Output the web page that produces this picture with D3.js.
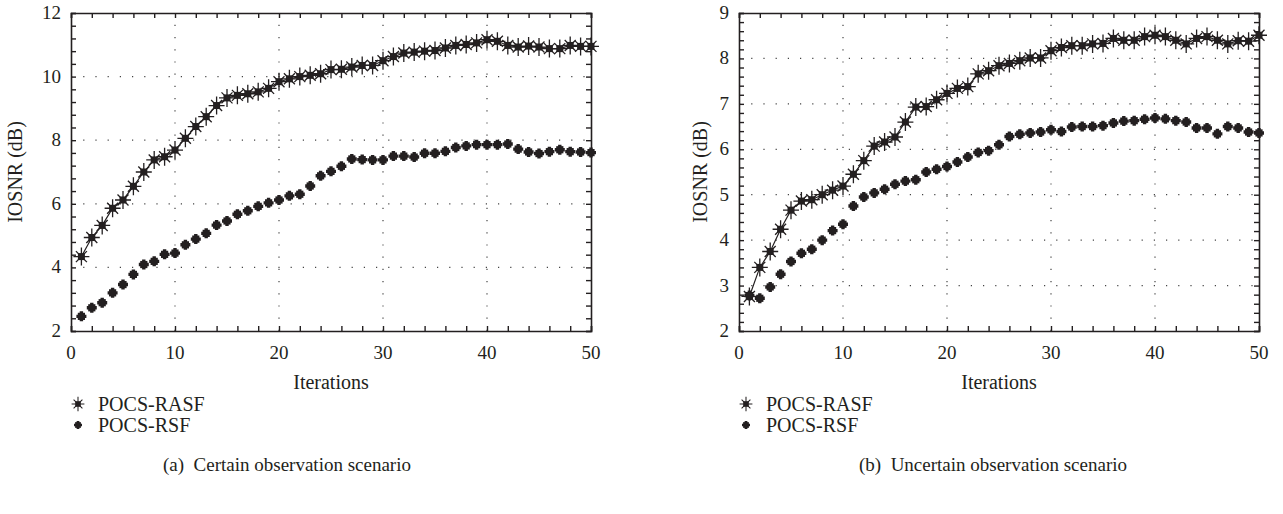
<!DOCTYPE html>
<html>
<head>
<meta charset="utf-8">
<script src="https://cdn.jsdelivr.net/npm/d3@7"></script>
<style>
  body { margin: 0; background: #fff; }
  svg text { font-family: "Liberation Serif", "Times New Roman", serif; fill: #231f20; }
</style>
</head>
<body>
<div id="chart"></div>
<script>
// data
var iterations = d3.range(1, 51);

var certainRASF = [4.34, 4.94, 5.32, 5.86, 6.12, 6.55, 7.0, 7.38, 7.48, 7.69,
  8.06, 8.43, 8.74, 9.09, 9.33, 9.41, 9.46, 9.52, 9.63, 9.84,
  9.93, 10.0, 10.04, 10.09, 10.22, 10.23, 10.3, 10.35, 10.35, 10.5,
  10.63, 10.74, 10.77, 10.8, 10.82, 10.9, 10.98, 11.01, 11.06, 11.16,
  11.11, 10.98, 10.93, 10.96, 10.93, 10.88, 10.88, 10.98, 10.95, 10.95];

var certainRSF = [2.46, 2.73, 2.89, 3.2, 3.46, 3.78, 4.09, 4.19, 4.41, 4.45,
  4.71, 4.89, 5.07, 5.33, 5.46, 5.67, 5.78, 5.92, 6.03, 6.12,
  6.25, 6.3, 6.56, 6.88, 7.02, 7.18, 7.41, 7.39, 7.38, 7.38,
  7.5, 7.5, 7.47, 7.59, 7.59, 7.65, 7.77, 7.82, 7.86, 7.86,
  7.86, 7.88, 7.72, 7.63, 7.58, 7.64, 7.7, 7.64, 7.63, 7.61];

var uncertainRASF = [2.76, 3.4, 3.75, 4.24, 4.66, 4.86, 4.89, 5.0, 5.1, 5.19,
  5.45, 5.75, 6.07, 6.16, 6.27, 6.6, 6.93, 6.94, 7.09, 7.23,
  7.34, 7.38, 7.66, 7.73, 7.84, 7.89, 7.95, 8.01, 8.01, 8.17,
  8.24, 8.28, 8.28, 8.32, 8.33, 8.44, 8.4, 8.4, 8.48, 8.51,
  8.48, 8.4, 8.32, 8.44, 8.48, 8.4, 8.32, 8.39, 8.38, 8.51];

var uncertainRSF = [2.78, 2.72, 2.97, 3.25, 3.53, 3.71, 3.8, 4.0, 4.21, 4.35,
  4.75, 4.95, 5.04, 5.12, 5.23, 5.3, 5.33, 5.5, 5.56, 5.62,
  5.72, 5.83, 5.93, 5.97, 6.1, 6.28, 6.33, 6.36, 6.38, 6.43,
  6.39, 6.49, 6.5, 6.5, 6.52, 6.58, 6.62, 6.63, 6.66, 6.69,
  6.67, 6.63, 6.6, 6.47, 6.47, 6.34, 6.5, 6.47, 6.38, 6.36];

var xTicks = [0, 10, 20, 30, 40, 50];
var leftYTicks = [2, 4, 6, 8, 10, 12];
var rightYTicks = [2, 3, 4, 5, 6, 7, 8, 9];
var seriesNames = ["POCS-RASF", "POCS-RSF"];
var captions = ["(a)\u2002Certain observation scenario", "(b)\u2002Uncertain observation scenario"];

var svg = d3.select("#chart").append("svg")
  .attr("width", 1283)
  .attr("height", 514);

var ink = "#231f20";

function starMarker(g) {
  g.append("path")
    .attr("d", "M-8,0H8M0,-9V9M-5.5,-5.5L5.5,5.5M-5.5,5.5L5.5,-5.5")
    .attr("stroke", ink).attr("stroke-width", 1.3).attr("fill", "none");
  g.append("rect").attr("x", -3.5).attr("y", -3.5).attr("width", 7).attr("height", 7).attr("fill", ink);
}

function blobMarker(g) {
  g.append("path")
    .attr("d", "M-5,0H5M0,-5V5")
    .attr("stroke", ink).attr("stroke-width", 3.4).attr("fill", "none");
  g.append("rect").attr("x", -3.6).attr("y", -3.6).attr("width", 7.2).attr("height", 7.2).attr("fill", ink);
}

function drawPanel(opt) {
  var x = d3.scaleLinear().domain([0, 50]).range([opt.left, opt.right]);
  var y = d3.scaleLinear().domain(opt.yDomain).range([331, 13]);
  var g = svg.append("g");

  // dotted grid
  g.selectAll(".gx").data(xTicks.slice(1, -1)).enter().append("line")
    .attr("x1", function(d) { return x(d); }).attr("x2", function(d) { return x(d); })
    .attr("y1", y.range()[0]).attr("y2", y.range()[1])
    .attr("stroke", "#444").attr("stroke-width", 1.2).attr("stroke-dasharray", "1.2,11");
  g.selectAll(".gy").data(opt.yTicks.slice(1, -1)).enter().append("line")
    .attr("x1", x(0)).attr("x2", x(50))
    .attr("y1", function(d) { return y(d); }).attr("y2", function(d) { return y(d); })
    .attr("stroke", "#444").attr("stroke-width", 1.2).attr("stroke-dasharray", "1.2,11");

  // axes with inward ticks on all sides
  var minorX = d3.range(0, 51, 2);
  var minorY = d3.range(opt.yDomain[0], opt.yDomain[1] + 0.001, opt.minorStep);
  g.append("g").attr("transform", "translate(0,331)")
    .call(d3.axisBottom(x).tickValues(minorX).tickSize(-5).tickFormat(""));
  g.append("g").attr("transform", "translate(0,13)")
    .call(d3.axisTop(x).tickValues(minorX).tickSize(-5).tickFormat(""));
  g.append("g").attr("transform", "translate(" + x(0) + ",0)")
    .call(d3.axisLeft(y).tickValues(minorY).tickSize(-5).tickFormat(""));
  g.append("g").attr("transform", "translate(" + x(50) + ",0)")
    .call(d3.axisRight(y).tickValues(minorY).tickSize(-5).tickFormat(""));
  g.selectAll(".domain").attr("stroke", ink).attr("stroke-width", 1.6);
  g.selectAll(".tick line").attr("stroke", ink).attr("stroke-width", 1.4);

  // tick labels
  g.selectAll(".xl").data(xTicks).enter().append("text")
    .attr("x", function(d) { return x(d); }).attr("y", 359)
    .attr("text-anchor", "middle").style("font-size", "19px")
    .text(function(d) { return d; });
  g.selectAll(".yl").data(opt.yTicks).enter().append("text")
    .attr("x", x(0) - 10).attr("y", function(d) { return y(d) + 6; })
    .attr("text-anchor", "end").style("font-size", "19px")
    .text(function(d) { return d; });

  g.append("text")
    .attr("x", (x(0) + x(50)) / 2).attr("y", 389)
    .attr("text-anchor", "middle").style("font-size", "20px")
    .text("Iterations");
  g.append("text")
    .attr("transform", "translate(" + opt.yTitleX + "," + y((opt.yDomain[0] + opt.yDomain[1]) / 2) + ")rotate(-90)")
    .attr("text-anchor", "middle").style("font-size", "20px")
    .text("IOSNR (dB)");

  // series
  var line = d3.line().x(function(d, i) { return x(iterations[i]); }).y(function(d) { return y(d); });
  g.append("path").datum(opt.rasf).attr("d", line)
    .attr("fill", "none").attr("stroke", ink).attr("stroke-width", 1.2);

  g.selectAll(".rsf").data(opt.rsf).enter().append("g")
    .attr("transform", function(d, i) { return "translate(" + x(iterations[i]) + "," + y(d) + ")"; })
    .each(function() { blobMarker(d3.select(this)); });
  g.selectAll(".rasf").data(opt.rasf).enter().append("g")
    .attr("transform", function(d, i) { return "translate(" + x(iterations[i]) + "," + y(d) + ")"; })
    .each(function() { starMarker(d3.select(this)); });

  // legend
  var lg = g.append("g").attr("transform", "translate(" + (opt.left + 7) + ",0)");
  var rows = [starMarker, blobMarker];
  rows.forEach(function(fn, i) {
    var row = lg.append("g").attr("transform", "translate(0," + (404 + i * 21) + ")");
    var m = row.append("g").attr("transform", "scale(0.8)");
    fn(m);
    row.append("text").attr("x", 20).attr("y", 7).style("font-size", "20px").text(seriesNames[i]);
  });

  g.append("text")
    .attr("x", opt.captionX).attr("y", 471)
    .attr("text-anchor", "middle").style("font-size", "19px")
    .text(opt.caption);
}

drawPanel({
  left: 71, right: 591, yDomain: [2, 12], yTicks: leftYTicks, minorStep: 0.4,
  rasf: certainRASF, rsf: certainRSF, yTitleX: 22, caption: captions[0], captionX: 287
});
drawPanel({
  left: 739, right: 1259, yDomain: [2, 9], yTicks: rightYTicks, minorStep: 0.2,
  rasf: uncertainRASF, rsf: uncertainRSF, yTitleX: 707, caption: captions[1], captionX: 993
});
</script>
</body>
</html>
